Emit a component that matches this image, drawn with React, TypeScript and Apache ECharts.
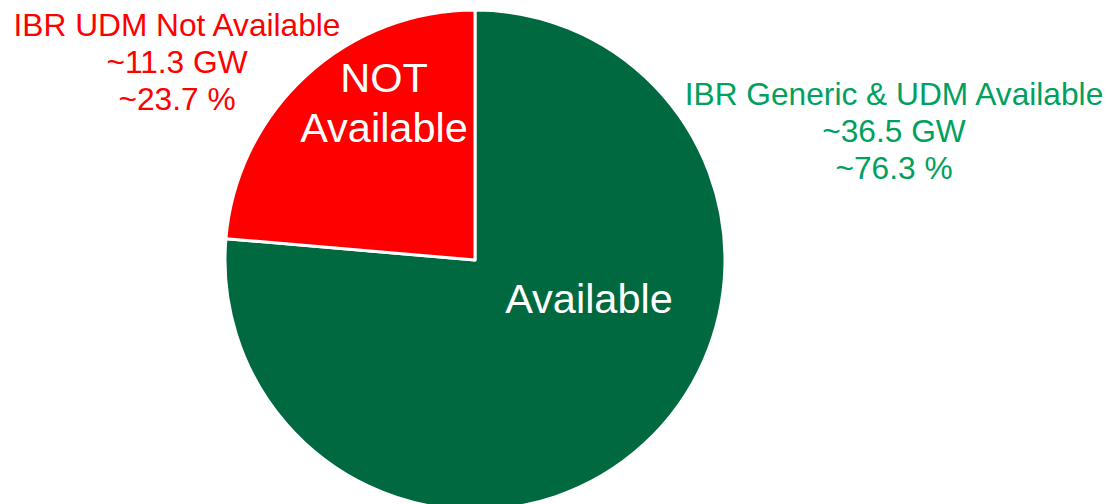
import React, { useEffect, useRef } from "react";
import * as echarts from "echarts";

const categories = ["Available", "NOT Available"];
const innerLabels = ["Available", "NOT\nAvailable"];
const capacityGW = [36.5, 11.3];
const sharePct = [76.3, 23.7];
const outerTitles = ["IBR Generic & UDM Available", "IBR UDM Not Available"];
const sliceColors = ["#00693F", "#FF0000"];
const outerColors = ["#00A05E", "#FF0000"];

const FONT = "'Liberation Sans', Arial, sans-serif";

export default function App() {
  const ref = useRef<HTMLDivElement>(null);
  useEffect(() => {
    if (!ref.current) return;
    const chart = echarts.init(ref.current, undefined, { renderer: "svg" });
    const outerPos = [
      [894, 131],
      [177, 62],
    ];
    const innerPos = [
      [589, 298],
      [384, 102],
    ];
    chart.setOption({
      animation: false,
      backgroundColor: "#ffffff",
      series: [
        {
          type: "pie",
          center: [475, 260],
          radius: 250,
          startAngle: 90,
          clockwise: true,
          label: { show: false },
          labelLine: { show: false },
          emphasis: { disabled: true },
          itemStyle: { borderColor: "#ffffff", borderWidth: 3 },
          data: categories.map((c, i) => ({
            name: c,
            value: capacityGW[i],
            itemStyle: { color: sliceColors[i] },
          })),
        },
      ],
      graphic: [
        ...categories.map((c, i) => ({
          type: "text",
          x: innerPos[i][0],
          y: innerPos[i][1],
          z: 10,
          style: {
            text: innerLabels[i],
            fill: "#ffffff",
            fontSize: 41.5,
            fontFamily: FONT,
            align: "center",
            verticalAlign: "middle",
            lineHeight: 50,
          },
        })),
        ...categories.map((c, i) => ({
          type: "text",
          x: outerPos[i][0],
          y: outerPos[i][1],
          z: 10,
          style: {
            text: `${outerTitles[i]}\n~${capacityGW[i].toFixed(1)} GW\n~${sharePct[i].toFixed(1)} %`,
            fill: outerColors[i],
            fontSize: 31.7,
            fontFamily: FONT,
            align: "center",
            verticalAlign: "middle",
            lineHeight: 37,
          },
        })),
      ],
    });
    return () => chart.dispose();
  }, []);
  return (
    <div
      ref={ref}
      style={{ position: "fixed", left: 0, top: 0, width: 1107, height: 504 }}
    />
  );
}
